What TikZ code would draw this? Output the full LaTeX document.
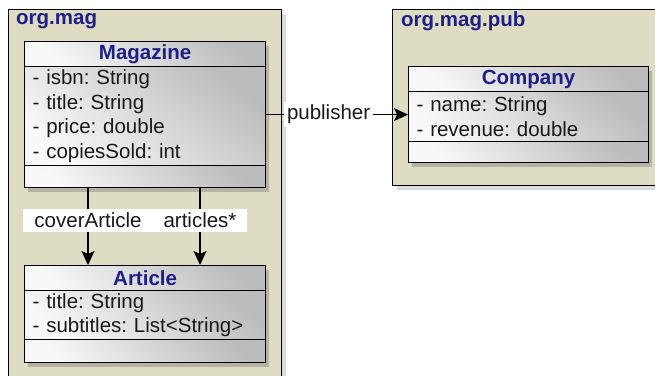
\documentclass[tikz,border=0pt]{standalone}
\usepackage{fontspec}
\setmainfont{Liberation Sans}
\usetikzlibrary{shadows,arrows.meta}
\definecolor{pkgfill}{RGB}{222,220,194}
\definecolor{navy}{RGB}{30,30,135}
\definecolor{gdark}{RGB}{188,188,188}
\definecolor{glight}{RGB}{248,248,248}
\definecolor{txt}{RGB}{25,25,25}
\tikzset{
  pkg/.style={draw=black, line width=1.2pt, fill=pkgfill, anchor=north west, inner sep=0pt,
    drop shadow={opacity=0.3, shadow xshift=4pt, shadow yshift=-4pt}},
  pkglabel/.style={anchor=west, inner sep=0pt, text=navy, font=\fontsize{20.5}{24.8}\selectfont\bfseries},
  classframe/.style={draw=black, line width=1.2pt, fill=white, anchor=north west, inner sep=0pt,
    minimum width=241pt, drop shadow={opacity=0.45, shadow xshift=3pt, shadow yshift=-4pt}},
  part/.style={draw=black, line width=1.2pt, anchor=north west, inner sep=0pt, minimum width=241pt,
    top color=gdark, bottom color=glight, shading angle=-40},
  header/.style={part, minimum height=25pt, text=navy, font=\fontsize{20.5}{24.8}\selectfont\bfseries},
  attrs/.style={part, text=txt, align=left, text width=225pt, inner xsep=8pt, inner ysep=0pt},
  ops/.style={part},
  assoc/.style={line width=1.2pt, -{Stealth[length=14pt,width=13pt,inset=3pt]}},
  lbl/.style={fill=white, text=txt, inner ysep=3pt, minimum height=23pt},
}
\frenchspacing
\begin{document}
\begin{tikzpicture}[x=1pt,y=-1pt, font=\fontsize{20.5}{24.8}\selectfont]
\useasboundingbox (0,0) rectangle (655,375);
% packages
\node[pkg, minimum width=273pt, minimum height=390pt] (pmag) at (8,9) {};
\node[pkglabel] (pmaglbl) at (16,21) {org.mag};
\node[pkg, minimum width=280pt, minimum height=176pt] (ppub) at (392,9) {};
\node[pkglabel] (ppublbl) at (401,21) {org.mag.pub};
% Magazine
\node[classframe, minimum height=146pt] (mag) at (24,41) {};
\node[header] (magh) at (24,41) {Magazine};
\node[attrs, minimum height=99pt] (maga) at (24,66) {- isbn: String\\- title: String\\- price: double\\- copiesSold: int};
\node[ops, minimum height=22pt] (mago) at (24,165) {};
% Article
\node[classframe, minimum height=97pt] (art) at (24,265) {};
\node[header] (arth) at (24,265) {Article};
\node[attrs, minimum height=49pt] (arta) at (24,290) {- title: String\\- subtitles: List<String>};
\node[ops, minimum height=23pt] (arto) at (24,339) {};
% Company
\node[classframe, minimum width=240pt, minimum height=96pt] (comp) at (408,66) {};
\node[header, minimum width=240pt] (comph) at (408,66) {Company};
\node[attrs, minimum width=240pt, text width=224pt, minimum height=50pt] (compa) at (408,91) {- name: String\\- revenue: double};
\node[ops, minimum width=240pt, minimum height=21pt] (compo) at (408,141) {};
% associations
\draw[assoc] ([xshift=64pt]mag.south west) -- node[lbl, pos=0.42, inner xsep=11pt] (lcov) {coverArticle} ([xshift=64pt]art.north west);
\draw[assoc] ([xshift=176pt]mag.south west) -- node[lbl, pos=0.42, inner xsep=11pt] (lart) {articles*} ([xshift=176pt]art.north west);
\draw[assoc] (mag.east) -- node[lbl, pos=0.44, inner xsep=3pt] (lpub) {publisher} (comp.west);
\end{tikzpicture}
\end{document}
